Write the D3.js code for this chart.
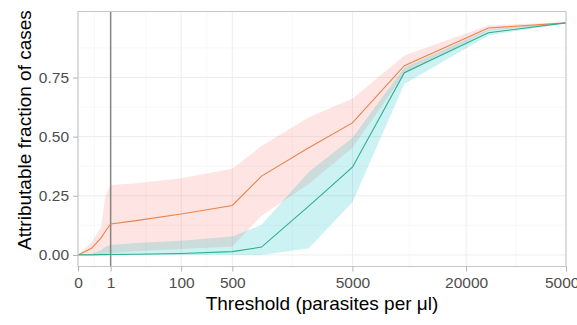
<!DOCTYPE html>
<html>
<head>
<meta charset="utf-8">
<script src="https://cdn.jsdelivr.net/npm/d3@7"></script>
<style>
  body { margin: 0; background: #ffffff; }
  svg text { font-family: "Liberation Sans", Arial, sans-serif; }
</style>
</head>
<body>
<div id="chart"></div>
<script>
// Thresholds (parasites per ul) and the two estimates with their intervals.
const thresholds = [0, 0.03, 0.25, 0.5, 1, 10, 100, 500, 1000, 2500, 5000, 10000, 25000, 50000];

const crudeFit = [0, 0.028, 0.072, 0.10, 0.131, 0.145, 0.173, 0.209, 0.333, 0.453, 0.558, 0.80, 0.959, 0.981];
const crudeLo  = [0, 0, 0, 0.003, 0.008, 0.015, 0.025, 0.036, 0.166, 0.30, 0.453, 0.765, 0.948, 0.979];
const crudeHi  = [0, 0.054, 0.117, 0.25, 0.296, 0.303, 0.324, 0.364, 0.46, 0.582, 0.66, 0.843, 0.97, 0.984];

const adjFit = [0, 0, 0.001, 0.001, 0.002, 0.003, 0.006, 0.014, 0.033, 0.206, 0.371, 0.77, 0.939, 0.981];
const adjLo  = [0, 0, 0, 0, 0, 0, 0, 0, 0, 0.028, 0.223, 0.723, 0.928, 0.979];
const adjHi  = [0, 0.005, 0.02, 0.035, 0.042, 0.05, 0.06, 0.078, 0.127, 0.35, 0.495, 0.792, 0.953, 0.983];

const xTicks = [0, 1, 100, 500, 5000, 20000, 50000];
const yTicks = [0, 0.25, 0.5, 0.75];

// Dimensions.
const dims = {
  width: 577,
  height: 325,
  left: 78,
  right: 566,
  top: 11.5,
  bottom: 266.5,
};

const x = d3.scalePow().exponent(0.25)
      .domain([0, 50000])
      .range([dims.left, dims.right]);

const y = d3.scaleLinear()
      .domain([-0.049, 1.029])
      .range([dims.bottom, dims.top]);

// minor breaks sit halfway between majors in transformed space
const xMinor = d3.pairs(xTicks).map(([a, b]) => x.invert((x(a) + x(b)) / 2));
const yMinor = d3.pairs(yTicks).map(([a, b]) => (a + b) / 2).concat([0.875]);

const svg = d3.select('#chart')
      .append('svg')
      .attr('width', dims.width)
      .attr('height', dims.height);

// Grid.
const grid = svg.append('g');
grid.selectAll('line.xminor').data(xMinor).join('line')
  .attr('x1', d => x(d)).attr('x2', d => x(d))
  .attr('y1', dims.top).attr('y2', dims.bottom)
  .attr('stroke', '#f4f4f4').attr('stroke-width', 0.6);
grid.selectAll('line.yminor').data(yMinor).join('line')
  .attr('x1', dims.left).attr('x2', dims.right)
  .attr('y1', d => y(d)).attr('y2', d => y(d))
  .attr('stroke', '#f4f4f4').attr('stroke-width', 0.6);
grid.selectAll('line.xmajor').data(xTicks).join('line')
  .attr('x1', d => x(d)).attr('x2', d => x(d))
  .attr('y1', dims.top).attr('y2', dims.bottom)
  .attr('stroke', '#ebebeb').attr('stroke-width', 0.9);
grid.selectAll('line.ymajor').data(yTicks).join('line')
  .attr('x1', dims.left).attr('x2', dims.right)
  .attr('y1', d => y(d)).attr('y2', d => y(d))
  .attr('stroke', '#ebebeb').attr('stroke-width', 0.9);

// Ribbons.
const rows = thresholds.map((t, i) => ({
  t: t,
  crudeFit: crudeFit[i], crudeLo: crudeLo[i], crudeHi: crudeHi[i],
  adjFit: adjFit[i], adjLo: adjLo[i], adjHi: adjHi[i],
}));

const band = (lo, hi) => d3.area()
      .x(d => x(d.t))
      .y0(d => y(d[lo]))
      .y1(d => y(d[hi]));

svg.append('path')
  .datum(rows)
  .attr('d', band('crudeLo', 'crudeHi'))
  .attr('fill', '#F8766D')
  .attr('fill-opacity', 0.2);

svg.append('path')
  .datum(rows)
  .attr('d', band('adjLo', 'adjHi'))
  .attr('fill', '#00BFC4')
  .attr('fill-opacity', 0.2);

// Reference line at threshold 1.
svg.append('line')
  .attr('x1', x(1)).attr('x2', x(1))
  .attr('y1', dims.top).attr('y2', dims.bottom)
  .attr('stroke', '#858585')
  .attr('stroke-width', 1.5);

// Lines.
const line = (key) => d3.line()
      .x(d => x(d.t))
      .y(d => y(d[key]));

svg.append('path')
  .datum(rows)
  .attr('d', line('crudeFit'))
  .attr('fill', 'none')
  .attr('stroke', '#E8844A')
  .attr('stroke-width', 1.1);

svg.append('path')
  .datum(rows)
  .attr('d', line('adjFit'))
  .attr('fill', 'none')
  .attr('stroke', '#2EAE8E')
  .attr('stroke-width', 1.1);

// Panel border.
svg.append('rect')
  .attr('x', dims.left).attr('y', dims.top)
  .attr('width', dims.right - dims.left)
  .attr('height', dims.bottom - dims.top)
  .attr('fill', 'none')
  .attr('stroke', '#c8c8c8')
  .attr('stroke-width', 1.1);

// Axes.
const xAxis = svg.append('g')
      .attr('transform', `translate(0,${dims.bottom})`)
      .call(d3.axisBottom(x).tickValues(xTicks).tickFormat(d3.format('d')).tickSize(5).tickPadding(5));

const yAxis = svg.append('g')
      .attr('transform', `translate(${dims.left},0)`)
      .call(d3.axisLeft(y).tickValues(yTicks).tickFormat(d3.format('.2f')).tickSize(5).tickPadding(4));

[xAxis, yAxis].forEach((ax) => {
  ax.select('.domain').remove();
  ax.selectAll('.tick line').attr('stroke', '#b3b3b3').attr('stroke-width', 1);
  ax.selectAll('.tick text')
    .attr('fill', '#4d4d4d')
    .style('font-size', '15.5px');
});

// Titles.
svg.append('text')
  .attr('x', (dims.left + dims.right) / 2)
  .attr('y', 310)
  .attr('text-anchor', 'middle')
  .attr('fill', '#000000')
  .style('font-size', '19px')
  .text('Threshold (parasites per \u03bcl)');

svg.append('text')
  .attr('transform', `translate(31,130) rotate(-90)`)
  .attr('text-anchor', 'middle')
  .attr('fill', '#000000')
  .style('font-size', '19px')
  .text('Attributable fraction of cases');
</script>
</body>
</html>
